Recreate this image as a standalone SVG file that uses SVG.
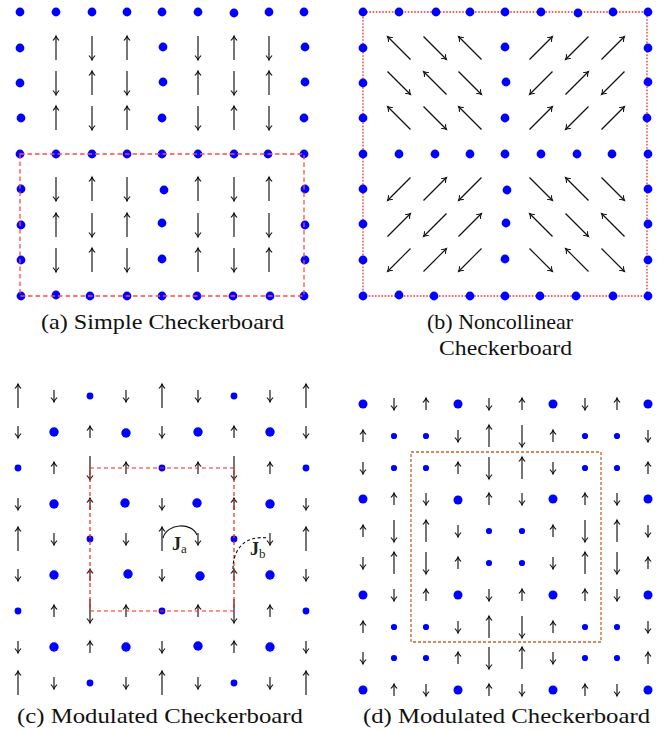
<svg xmlns="http://www.w3.org/2000/svg" width="667" height="730" viewBox="0 0 667 730">
<style>
.d{fill:#0000ff}
.a path{fill:none;stroke:#111;stroke-width:1.15;marker-end:url(#ah)}
.cap{font-size:21px;fill:#111}
.lab{fill:#222}
</style>
<defs>
<marker id="ah" markerUnits="userSpaceOnUse" orient="auto" overflow="visible" refX="0" refY="0" markerWidth="1" markerHeight="1">
<path d="M-4.2,-2.8 C-2.8,-1.2 -1,-0.35 0,0 C-1,0.35 -2.8,1.2 -4.2,2.8" fill="none" stroke="#111" stroke-width="1.05" stroke-linecap="round"/>
</marker>
</defs>

<!-- Panel (a) -->
<g id="panel-a">
<g class="d">
<circle cx="20" cy="12" r="4.4"/><circle cx="56" cy="12" r="4.4"/><circle cx="92" cy="12" r="4.4"/><circle cx="127" cy="12" r="4.4"/><circle cx="162" cy="12" r="4.4"/><circle cx="198" cy="12" r="4.4"/><circle cx="234" cy="13" r="4.4"/><circle cx="269" cy="12" r="4.4"/><circle cx="304" cy="12" r="4.4"/>
<circle cx="20" cy="48" r="4.4"/><circle cx="163" cy="47" r="4.4"/><circle cx="305" cy="47" r="4.4"/>
<circle cx="20" cy="83" r="4.4"/><circle cx="163" cy="82" r="4.4"/><circle cx="305" cy="82" r="4.4"/>
<circle cx="21" cy="118" r="4.4"/><circle cx="162" cy="118" r="4.4"/><circle cx="304" cy="118" r="4.4"/>
<circle cx="20" cy="154" r="4.4"/><circle cx="56" cy="154" r="4.4"/><circle cx="92" cy="154" r="4.4"/><circle cx="127" cy="154" r="4.4"/><circle cx="162" cy="154" r="4.4"/><circle cx="198" cy="154" r="4.4"/><circle cx="234" cy="154" r="4.4"/><circle cx="268" cy="154" r="4.4"/><circle cx="304" cy="154" r="4.4"/>
<circle cx="21" cy="189" r="4.4"/><circle cx="164" cy="190" r="4.4"/><circle cx="305" cy="189" r="4.4"/>
<circle cx="21" cy="225" r="4.4"/><circle cx="162" cy="223" r="4.4"/><circle cx="305" cy="225" r="4.4"/>
<circle cx="21" cy="260" r="4.4"/><circle cx="162" cy="259" r="4.4"/><circle cx="305" cy="260" r="4.4"/>
<circle cx="21" cy="296" r="4.4"/><circle cx="56" cy="295" r="4.4"/><circle cx="90" cy="296" r="4.4"/><circle cx="127" cy="296" r="4.4"/><circle cx="162" cy="296" r="4.4"/><circle cx="197" cy="296" r="4.4"/><circle cx="233" cy="296" r="4.4"/><circle cx="270" cy="296" r="4.4"/><circle cx="304" cy="296" r="4.4"/>
</g>
<g class="a">
<path d="M56 60V36"/><path d="M92 36V60"/><path d="M127 60V36"/><path d="M198 36V60"/><path d="M234 60V36"/><path d="M269 36V60"/>
<path d="M56 71V95"/><path d="M92 95V71"/><path d="M127 71V95"/><path d="M198 95V71"/><path d="M234 71V95"/><path d="M269 95V71"/>
<path d="M56 130V106"/><path d="M92 106V130"/><path d="M127 130V106"/><path d="M198 106V130"/><path d="M234 130V106"/><path d="M269 106V130"/>
<path d="M56 177V201"/><path d="M92 201V177"/><path d="M127 177V201"/><path d="M198 201V177"/><path d="M234 177V201"/><path d="M269 201V177"/>
<path d="M56 237V213"/><path d="M92 213V237"/><path d="M127 237V213"/><path d="M198 213V237"/><path d="M234 237V213"/><path d="M269 213V237"/>
<path d="M56 248V272"/><path d="M92 272V248"/><path d="M127 248V272"/><path d="M198 272V248"/><path d="M234 248V272"/><path d="M269 272V248"/>
</g>
<rect x="20" y="154" width="284" height="142" fill="none" stroke="#ff4a4a" stroke-width="1.3" stroke-dasharray="4.5 3"/>
<text class="cap" font-family="'Liberation Serif', 'Times New Roman', serif" x="41" y="329" textLength="243" lengthAdjust="spacingAndGlyphs">(a) Simple Checkerboard</text>
</g>

<!-- Panel (b) -->
<g id="panel-b">
<rect x="363" y="12" width="284" height="284" fill="none" stroke="#ff2a2a" stroke-width="1.3" stroke-dasharray="1.6 1.6"/>
<g class="d">
<circle cx="363" cy="12" r="4.4"/><circle cx="399" cy="12" r="4.4"/><circle cx="436" cy="12" r="4.4"/><circle cx="470" cy="12" r="4.4"/><circle cx="505" cy="12" r="4.4"/><circle cx="541" cy="12" r="4.4"/><circle cx="578" cy="13" r="4.4"/><circle cx="613" cy="12" r="4.4"/><circle cx="648" cy="12" r="4.4"/>
<circle cx="363" cy="48" r="4.4"/><circle cx="505" cy="47" r="4.4"/><circle cx="648" cy="48" r="4.4"/>
<circle cx="363" cy="83" r="4.4"/><circle cx="506" cy="82" r="4.4"/><circle cx="648" cy="82" r="4.4"/>
<circle cx="363" cy="118" r="4.4"/><circle cx="505" cy="118" r="4.4"/><circle cx="647" cy="118" r="4.4"/>
<circle cx="363" cy="154" r="4.4"/><circle cx="399" cy="154" r="4.4"/><circle cx="435" cy="154" r="4.4"/><circle cx="470" cy="154" r="4.4"/><circle cx="505" cy="154" r="4.4"/><circle cx="541" cy="154" r="4.4"/><circle cx="577" cy="154" r="4.4"/><circle cx="612" cy="154" r="4.4"/><circle cx="648" cy="154" r="4.4"/>
<circle cx="363" cy="189" r="4.4"/><circle cx="507" cy="190" r="4.4"/><circle cx="648" cy="189" r="4.4"/>
<circle cx="363" cy="224" r="4.4"/><circle cx="506" cy="223" r="4.4"/><circle cx="648" cy="224" r="4.4"/>
<circle cx="363" cy="260" r="4.4"/><circle cx="505" cy="259" r="4.4"/><circle cx="648" cy="260" r="4.4"/>
<circle cx="363" cy="296" r="4.4"/><circle cx="399" cy="295" r="4.4"/><circle cx="434" cy="296" r="4.4"/><circle cx="470" cy="296" r="4.4"/><circle cx="505" cy="296" r="4.4"/><circle cx="540" cy="296" r="4.4"/><circle cx="576" cy="296" r="4.4"/><circle cx="613" cy="296" r="4.4"/><circle cx="648" cy="296" r="4.4"/>
</g>
<g class="a">
<path d="M410.5 59.5L387.5 36.5"/><path d="M423.5 36.5L446.5 59.5"/><path d="M481.5 59.5L458.5 36.5"/><path d="M529.5 59.5L552.5 36.5"/><path d="M588.5 36.5L565.5 59.5"/><path d="M601.5 59.5L624.5 36.5"/>
<path d="M387.5 71.5L410.5 94.5"/><path d="M446.5 94.5L423.5 71.5"/><path d="M458.5 71.5L481.5 94.5"/><path d="M552.5 71.5L529.5 94.5"/><path d="M565.5 94.5L588.5 71.5"/><path d="M624.5 71.5L601.5 94.5"/>
<path d="M410.5 129.5L387.5 106.5"/><path d="M423.5 106.5L446.5 129.5"/><path d="M481.5 129.5L458.5 106.5"/><path d="M529.5 129.5L552.5 106.5"/><path d="M588.5 106.5L565.5 129.5"/><path d="M601.5 129.5L624.5 106.5"/>
<path d="M410.5 177.5L387.5 200.5"/><path d="M423.5 200.5L446.5 177.5"/><path d="M481.5 177.5L458.5 200.5"/><path d="M529.5 177.5L552.5 200.5"/><path d="M588.5 200.5L565.5 177.5"/><path d="M601.5 177.5L624.5 200.5"/>
<path d="M387.5 236.5L410.5 213.5"/><path d="M446.5 213.5L423.5 236.5"/><path d="M458.5 236.5L481.5 213.5"/><path d="M552.5 236.5L529.5 213.5"/><path d="M565.5 213.5L588.5 236.5"/><path d="M624.5 236.5L601.5 213.5"/>
<path d="M410.5 248.5L387.5 271.5"/><path d="M423.5 271.5L446.5 248.5"/><path d="M481.5 248.5L458.5 271.5"/><path d="M529.5 248.5L552.5 271.5"/><path d="M588.5 271.5L565.5 248.5"/><path d="M601.5 248.5L624.5 271.5"/>
</g>
<text class="cap" font-family="'Liberation Serif', 'Times New Roman', serif" x="427" y="329" textLength="146" lengthAdjust="spacingAndGlyphs">(b) Noncollinear</text>
<text class="cap" font-family="'Liberation Serif', 'Times New Roman', serif" x="439" y="355" textLength="133" lengthAdjust="spacingAndGlyphs">Checkerboard</text>
</g>

<!-- Panel (c) -->
<g id="panel-c">
<g class="d">
<circle cx="90" cy="396" r="3.4"/><circle cx="234" cy="396" r="3.4"/>
<circle cx="54" cy="432" r="4.7"/><circle cx="126" cy="433" r="4.7"/><circle cx="198" cy="432" r="4.7"/><circle cx="270" cy="432" r="4.7"/>
<circle cx="18" cy="468" r="3.4"/><circle cx="162" cy="468" r="3.4"/><circle cx="306" cy="468" r="3.4"/>
<circle cx="54" cy="504" r="4.7"/><circle cx="125" cy="503" r="4.7"/><circle cx="197" cy="503" r="4.7"/><circle cx="270" cy="504" r="4.7"/>
<circle cx="90" cy="539" r="3.4"/><circle cx="234" cy="539" r="3.4"/>
<circle cx="54" cy="575" r="4.7"/><circle cx="128" cy="574" r="4.7"/><circle cx="200" cy="576" r="4.7"/><circle cx="270" cy="575" r="4.7"/>
<circle cx="18" cy="611" r="3.4"/><circle cx="162" cy="611" r="3.4"/><circle cx="306" cy="611" r="3.4"/>
<circle cx="54" cy="647" r="4.7"/><circle cx="126" cy="647" r="4.7"/><circle cx="198" cy="646" r="4.7"/><circle cx="270" cy="647" r="4.7"/>
<circle cx="90" cy="683" r="3.4"/><circle cx="234" cy="683" r="3.4"/>
</g>
<g class="a">
<path d="M18 408V384"/><path d="M54 390V402"/><path d="M126 390V402"/><path d="M162 408V384"/><path d="M198 390V402"/><path d="M270 390V402"/><path d="M306 408V384"/>
<path d="M18 426V438"/><path d="M90 438V426"/><path d="M162 426V438"/><path d="M234 438V426"/><path d="M306 426V438"/>
<path d="M54 474V462"/><path d="M90 456V480"/><path d="M126 474V462"/><path d="M198 474V462"/><path d="M234 456V480"/><path d="M270 474V462"/>
<path d="M18 498V510"/><path d="M90 510V498"/><path d="M162 498V510"/><path d="M234 510V498"/><path d="M306 498V510"/>
<path d="M18 551V527"/><path d="M54 533V545"/><path d="M126 533V545"/><path d="M162 551V527"/><path d="M198 533V545"/><path d="M270 533V545"/><path d="M306 551V527"/>
<path d="M18 569V581"/><path d="M90 581V569"/><path d="M162 569V581"/><path d="M234 581V569"/><path d="M306 569V581"/>
<path d="M54 617V605"/><path d="M90 599V623"/><path d="M126 617V605"/><path d="M198 617V605"/><path d="M234 599V623"/><path d="M270 617V605"/>
<path d="M18 641V653"/><path d="M90 653V641"/><path d="M162 641V653"/><path d="M234 653V641"/><path d="M306 641V653"/>
<path d="M18 695V671"/><path d="M54 677V689"/><path d="M126 677V689"/><path d="M162 695V671"/><path d="M198 677V689"/><path d="M270 677V689"/><path d="M306 695V671"/>
</g>
<rect x="90" y="468" width="144" height="143" fill="none" stroke="#ff2020" stroke-width="1.2" stroke-dasharray="4 3"/>
<path d="M163 538C167 523 192 522 197 535" fill="none" stroke="#111" stroke-width="1.15"/>
<path d="M233 569C233 549 245 535 268 538" fill="none" stroke="#111" stroke-width="1.15" stroke-dasharray="3 2.5"/>
<text class="lab" font-family="'Liberation Serif', 'Times New Roman', serif" font-weight="bold" x="172" y="550" font-size="18">J<tspan font-size="13" font-weight="normal" dy="3">a</tspan></text>
<text class="lab" font-family="'Liberation Serif', 'Times New Roman', serif" font-weight="bold" x="250" y="555" font-size="18">J<tspan font-size="13" font-weight="normal" dy="3">b</tspan></text>
<text class="cap" font-family="'Liberation Serif', 'Times New Roman', serif" x="17" y="723" textLength="286" lengthAdjust="spacingAndGlyphs">(c) Modulated Checkerboard</text>
</g>

<!-- Panel (d) -->
<g id="panel-d">
<rect x="411" y="452" width="190" height="190" fill="none" stroke="#c2652a" stroke-width="1.3" stroke-dasharray="3 2"/>
<g class="d">
<circle cx="363" cy="404" r="4.5"/><circle cx="458" cy="404" r="4.5"/><circle cx="553" cy="404" r="4.5"/><circle cx="648" cy="404" r="4.5"/>
<circle cx="394" cy="436" r="3.1"/><circle cx="426" cy="436" r="3.1"/><circle cx="585" cy="436" r="3.1"/><circle cx="617" cy="436" r="3.1"/>
<circle cx="394" cy="468" r="3.1"/><circle cx="426" cy="468" r="3.1"/><circle cx="585" cy="468" r="3.1"/><circle cx="617" cy="468" r="3.1"/>
<circle cx="363" cy="499" r="4.5"/><circle cx="458" cy="500" r="4.5"/><circle cx="553" cy="499" r="4.5"/><circle cx="648" cy="499" r="4.5"/>
<circle cx="489" cy="531" r="3.1"/><circle cx="522" cy="531" r="3.1"/>
<circle cx="489" cy="563" r="3.1"/><circle cx="522" cy="563" r="3.1"/>
<circle cx="363" cy="595" r="4.5"/><circle cx="458" cy="595" r="4.5"/><circle cx="553" cy="595" r="4.5"/><circle cx="648" cy="595" r="4.5"/>
<circle cx="394" cy="627" r="3.1"/><circle cx="426" cy="627" r="3.1"/><circle cx="585" cy="627" r="3.1"/><circle cx="617" cy="627" r="3.1"/>
<circle cx="394" cy="658" r="3.1"/><circle cx="426" cy="658" r="3.1"/><circle cx="585" cy="658" r="3.1"/><circle cx="617" cy="658" r="3.1"/>
<circle cx="363" cy="690" r="4.5"/><circle cx="458" cy="690" r="4.5"/><circle cx="553" cy="690" r="4.5"/><circle cx="648" cy="690" r="4.5"/>
</g>
<g class="a">
<path d="M394 398V410"/><path d="M426 410V398"/><path d="M489 398V410"/><path d="M522 410V398"/><path d="M585 398V410"/><path d="M617 410V398"/>
<path d="M363 442V430"/><path d="M458 430V442"/><path d="M489 447V425"/><path d="M522 425V447"/><path d="M553 442V430"/><path d="M648 430V442"/>
<path d="M363 462V474"/><path d="M458 474V462"/><path d="M489 457V479"/><path d="M522 479V457"/><path d="M553 462V474"/><path d="M648 474V462"/>
<path d="M394 505V493"/><path d="M426 493V505"/><path d="M489 505V493"/><path d="M522 493V505"/><path d="M585 505V493"/><path d="M617 493V505"/>
<path d="M363 537V525"/><path d="M394 520V542"/><path d="M426 542V520"/><path d="M458 525V537"/><path d="M553 537V525"/><path d="M585 520V542"/><path d="M617 542V520"/><path d="M648 525V537"/>
<path d="M363 557V569"/><path d="M394 574V552"/><path d="M426 552V574"/><path d="M458 569V557"/><path d="M553 557V569"/><path d="M585 574V552"/><path d="M617 552V574"/><path d="M648 569V557"/>
<path d="M394 589V601"/><path d="M426 601V589"/><path d="M489 589V601"/><path d="M522 601V589"/><path d="M585 601V589"/><path d="M617 589V601"/>
<path d="M363 633V621"/><path d="M458 621V633"/><path d="M489 638V616"/><path d="M522 616V638"/><path d="M553 633V621"/><path d="M648 621V633"/>
<path d="M363 652V664"/><path d="M458 664V652"/><path d="M489 647V669"/><path d="M522 669V647"/><path d="M553 652V664"/><path d="M648 664V652"/>
<path d="M394 696V684"/><path d="M426 684V696"/><path d="M489 696V684"/><path d="M522 684V696"/><path d="M585 696V684"/><path d="M617 684V696"/>
</g>
<text class="cap" font-family="'Liberation Serif', 'Times New Roman', serif" x="363" y="723" textLength="287" lengthAdjust="spacingAndGlyphs">(d) Modulated Checkerboard</text>
</g>
</svg>
